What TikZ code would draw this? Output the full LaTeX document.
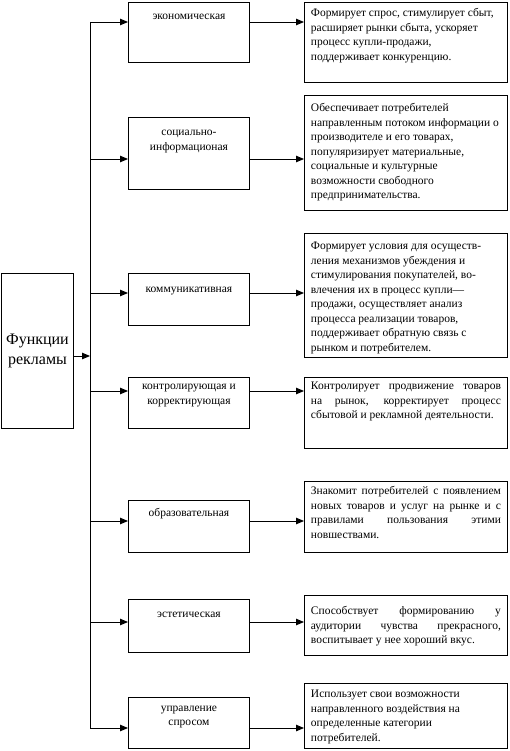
\documentclass[tikz,border=0pt]{standalone}
\usepackage{fontspec}
\setmainfont{Liberation Serif}
\usetikzlibrary{arrows.meta}
\tikzset{
  boxline/.style={draw=black, line width=0.9pt},
  mainbox/.style={boxline, inner sep=0pt, minimum width=72pt, minimum height=155pt, align=center, font=\fontsize{16}{20}\selectfont},
  midbox/.style={boxline, inner sep=0pt},
  rbox/.style={boxline, inner xsep=6.5pt, inner ysep=0pt},
  trunk/.style={draw=black, line width=0.9pt},
  arr/.style={draw=black, line width=0.9pt, -{Triangle[length=8pt,width=6.5pt]}}
}
\newcommand\midnode[5]{%
  \node[midbox, anchor=north west] (#1) at (128,#2)
    {\parbox[c][#3pt][t]{121pt}{\fontsize{11.5}{14.5}\selectfont\centering\vspace*{#4pt}\strut #5}};}
\newcommand\rnode[5]{%
  \node[rbox, anchor=north west] (#1) at (304,#2)
    {\parbox[c][#3pt][t]{190pt}{\fontsize{11.5}{14.5}\selectfont\vspace*{#4pt}\strut #5}};}
\begin{document}
\begin{tikzpicture}[x=1pt, y=-1pt]
\useasboundingbox (0,0) rectangle (510,751);

\node[mainbox, anchor=north west] (main) at (1,273) {\raisebox{-9pt}{\parbox{70pt}{\centering Функции\\рекламы}}};

\midnode{b1}{2}{60}{7}{экономическая}
\midnode{b2}{117}{72}{8}{социально-\\информационая}
\midnode{b3}{273}{52}{9}{коммуникативная}
\midnode{b4}{377}{51}{2}{контролирующая и\\корректирующая}
\midnode{b5}{500}{52}{6}{образовательная}
\midnode{b6}{599}{53}{8}{эстетическая}
\midnode{b7}{697}{51}{3.5}{управление\\спросом}

\rnode{r1}{2}{80}{4}{Формирует спрос, стимулирует сбыт,\\ расширяет рынки сбыта, ускоряет\\ процесс купли-продажи,\\ поддерживает конкуренцию.}
\rnode{r2}{95}{115}{6}{Обеспечивает потребителей\\ направленным потоком информации о\\ производителе и его товарах,\\ популяризирует материальные,\\ социальные и культурные\\ возможности свободного\\ предпринимательства.}
\rnode{r3}{233}{124}{6}{Формирует условия для осуществ-\\ления механизмов убеждения и\\ стимулирования покупателей, во-\\влечения их в процесс купли—\\ продажи, осуществляет анализ\\ процесса реализации товаров,\\ поддерживает обратную связь с\\ рынком и потребителем.}
\rnode{r4}{377}{71}{2}{Контролирует продвижение товаров\linebreak на рынок, корректирует процесс\linebreak сбытовой и рекламной деятельности.}
\rnode{r5}{481}{71}{3}{Знакомит потребителей с появлением\linebreak новых товаров и услуг на рынке и с\linebreak правилами пользования этими\linebreak новшествами.}
\rnode{r6}{595}{60}{9}{Способствует формированию у\linebreak аудитории чувства прекрасного,\linebreak воспитывает у нее хороший вкус.}
\rnode{r7}{683}{65}{4}{Использует свои возможности\\ направленного воздействия на\\ определенные категории\\ потребителей.}

\coordinate (t1) at (90,22);
\coordinate (t2) at (90,159);
\coordinate (t3) at (90,293);
\coordinate (t4) at (90,391);
\coordinate (t5) at (90,521);
\coordinate (t6) at (90,622);
\coordinate (t7) at (90,728);
\coordinate (tm) at (90,356);

\draw[trunk] (t1) -- (t7);
\draw[arr] (main.east |- tm) -- (tm);
\foreach \i in {1,...,7} {
  \draw[arr] (t\i) -- (b\i.west |- t\i);
  \draw[arr] (b\i.east |- t\i) -- (r\i.west |- t\i);
}
\end{tikzpicture}
\end{document}
